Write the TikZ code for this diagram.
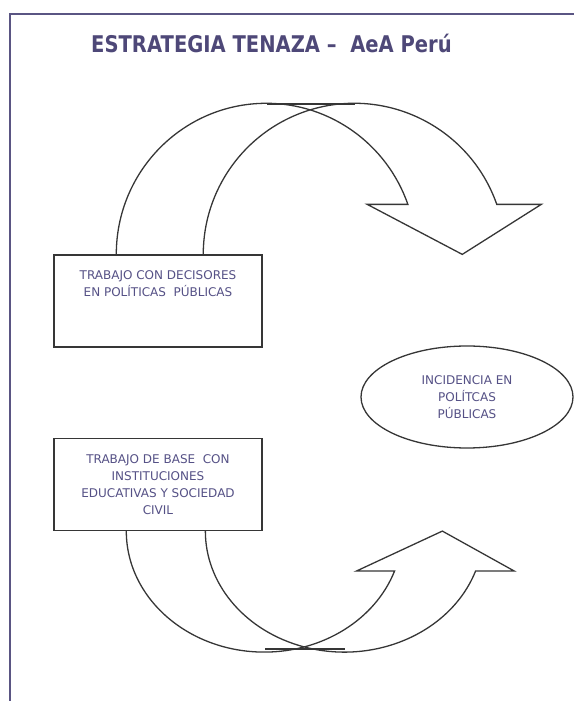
\documentclass[tikz,border=0pt]{standalone}
\usepackage{fontspec}
\setmainfont{DejaVu Sans}
\newfontfamily\titlefont[FakeStretch=0.85]{DejaVu Sans}
\usetikzlibrary{positioning,shapes.geometric}
\definecolor{framepurple}{HTML}{5A5583}
\definecolor{titlepurple}{HTML}{4E4878}
\definecolor{textpurple}{HTML}{555186}
\definecolor{linegray}{HTML}{363636}
\tikzset{
  titletext/.style={
    font=\titlefont\bfseries\fontsize{23}{27}\selectfont,
    text=titlepurple,
    inner sep=0pt
  },
  workbox/.style={
    draw=linegray,
    fill=white,
    line width=1.4pt,
    minimum width=208pt,
    minimum height=92pt,
    inner sep=0pt,
    font=\fontsize{12}{17}\selectfont,
    text=textpurple
  },
  goalellipse/.style={
    ellipse,
    draw=linegray,
    fill=white,
    line width=1.3pt,
    minimum width=212pt,
    minimum height=102pt,
    inner sep=0pt,
    align=center,
    font=\fontsize{12}{17}\selectfont,
    text=textpurple
  },
  blockarrow/.style={
    draw=linegray,
    line width=1.3pt,
    line join=miter
  },
  frameline/.style={
    draw=framepurple,
    line width=2pt
  }
}

\begin{document}
\begin{tikzpicture}[x=1pt, y=1pt]
    \useasboundingbox (0,0) rectangle (574,701);
    \draw[frameline] (9.5,0) -- (9.5,686.5) -- (574,686.5);

    \node[titletext] (title) at (271.5,658) {ESTRATEGIA TENAZA –\ \ AeA Perú};

    \node[workbox] (dec) at (158,400) {\parbox[c][92pt][t]{208pt}{\centering\rule{0pt}{24.5pt}TRABAJO CON DECISORES\\EN POLÍTICAS\ \ PÚBLICAS}};
    \node[workbox, below=90pt of dec] (base) {\parbox[c][92pt][t]{208pt}{\centering\rule{0pt}{25.5pt}TRABAJO DE BASE\ \ CON\\INSTITUCIONES\\EDUCATIVAS Y SOCIEDAD\\CIVIL}};
    \node[goalellipse] (goal) at (467,304) {INCIDENCIA EN\\POLÍTCAS\\PÚBLICAS};

    % upper curved arrow
    \draw[blockarrow] (dec.north west) ++(63,0)
        arc[start angle=180, end angle=19.3, x radius=150, y radius=151]
        -- ++(-40.6,0) -- ++(95,-50) -- ++(79,50) -- ++(-44.5,0)
        arc[start angle=19.3, end angle=180, x radius=151, y radius=151];
    \draw[blockarrow] (267,597) -- (355,597);

    % lower curved arrow
    \draw[blockarrow] (base.south west) ++(73,0)
        arc[start angle=180, end angle=340.7, x radius=138, y radius=121]
        -- ++(-38.2,0) -- ++(86,40) -- ++(72,-40) -- ++(-38.8,0)
        arc[start angle=340.7, end angle=180, x radius=139, y radius=121];
    \draw[blockarrow] (265,52) -- (345,52);
\end{tikzpicture}
\end{document}
